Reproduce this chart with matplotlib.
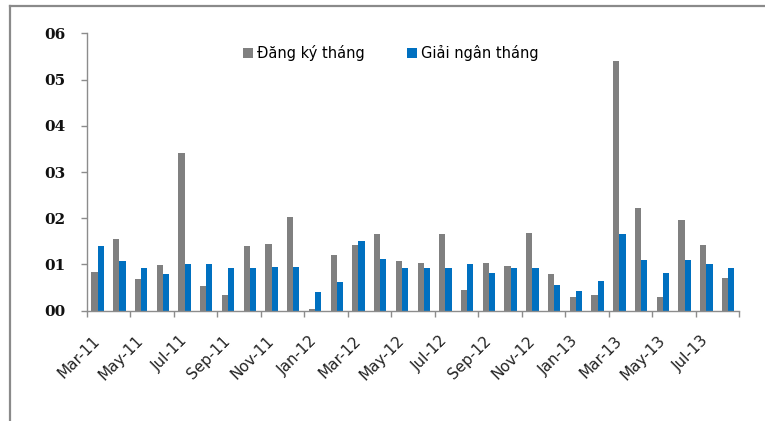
import numpy as np
import matplotlib.pyplot as plt
from matplotlib.lines import Line2D

# monthly data, Mar-11 .. Aug-13 (units of the original axis: 00..06)
months = ['Mar-11', 'Apr-11', 'May-11', 'Jun-11', 'Jul-11', 'Aug-11', 'Sep-11', 'Oct-11',
          'Nov-11', 'Dec-11', 'Jan-12', 'Feb-12', 'Mar-12', 'Apr-12', 'May-12', 'Jun-12',
          'Jul-12', 'Aug-12', 'Sep-12', 'Oct-12', 'Nov-12', 'Dec-12', 'Jan-13', 'Feb-13',
          'Mar-13', 'Apr-13', 'May-13', 'Jun-13', 'Jul-13', 'Aug-13']
dang_ky = [0.83, 1.56, 0.69, 0.98, 3.41, 0.54, 0.35, 1.40, 1.45, 2.02, 0.04, 1.21, 1.42, 1.66, 1.08,
           1.04, 1.65, 0.45, 1.04, 0.96, 1.67, 0.80, 0.29, 0.34, 5.40, 2.22, 0.29, 1.96, 1.43, 0.71]
giai_ngan = [1.40, 1.08, 0.93, 0.80, 1.00, 1.00, 0.93, 0.93, 0.95, 0.95, 0.41, 0.61, 1.51, 1.11, 0.92,
             0.92, 0.92, 1.00, 0.81, 0.92, 0.92, 0.55, 0.42, 0.64, 1.65, 1.10, 0.81, 1.10, 1.00, 0.92]
y_ticks = [0, 1, 2, 3, 4, 5, 6]
y_labels = ['00', '01', '02', '03', '04', '05', '06']

GREY = '#808080'
BLUE = '#0070C0'
AXIS = '#8c8c8c'

W, H = 765, 421
fig = plt.figure(figsize=(W / 100, H / 100), dpi=100)

# outer chart border (cropped: only top and left edges visible)
fig.add_artist(Line2D([10 / W, 10 / W], [0, 1 - 6 / H], transform=fig.transFigure,
                      color='#8a8a8a', lw=1.6))
fig.add_artist(Line2D([10 / W, 1], [1 - 6 / H, 1 - 6 / H], transform=fig.transFigure,
                      color='#8a8a8a', lw=1.6))

ax = fig.add_axes([86.7 / W, 1 - 310.7 / H, (739 - 86.7) / W, (310.7 - 33.3) / H])

x = np.arange(len(months))
bw = 0.285
ax.bar(x - bw / 2, dang_ky, width=bw, color=GREY, label='Đăng ký tháng')
ax.bar(x + bw / 2, giai_ngan, width=bw, color=BLUE, label='Giải ngân tháng')

ax.set_xlim(-0.5, len(months) - 0.5)
ax.set_ylim(0, 6)

for s in ['top', 'right']:
    ax.spines[s].set_visible(False)
for s in ['left', 'bottom']:
    ax.spines[s].set_color(AXIS)
    ax.spines[s].set_linewidth(1.0)

# y axis
ax.set_yticks(y_ticks)
ax.set_yticklabels(y_labels, fontfamily='DejaVu Serif', fontweight='bold', fontsize=11, color='#111111')
ax.tick_params(axis='y', direction='out', length=4.5, width=1.0, color=AXIS, pad=11)

# x axis: tick marks between categories every 2 months, labels on every 2nd month
ax.set_xticks(np.arange(-0.5, len(months), 2))
ax.set_xticklabels([])
ax.tick_params(axis='x', which='major', direction='out', length=4.5, width=1.0, color=AXIS)
ax.set_xticks(x[::2], minor=True)
ax.set_xticklabels(months[::2], minor=True, rotation=45, ha='right', va='center',
                   rotation_mode='anchor', fontsize=11, color='#222222')
ax.tick_params(axis='x', which='minor', length=0, pad=20)

leg = ax.legend(loc='center left', bbox_to_anchor=(243 / W, 1 - 53 / H),
                bbox_transform=fig.transFigure, ncol=2, frameon=False, fontsize=10.5,
                handlelength=0.7, handleheight=0.7, handletextpad=0.25,
                columnspacing=2.9, borderpad=0, borderaxespad=0)

fig.savefig('out.png', dpi=100)
